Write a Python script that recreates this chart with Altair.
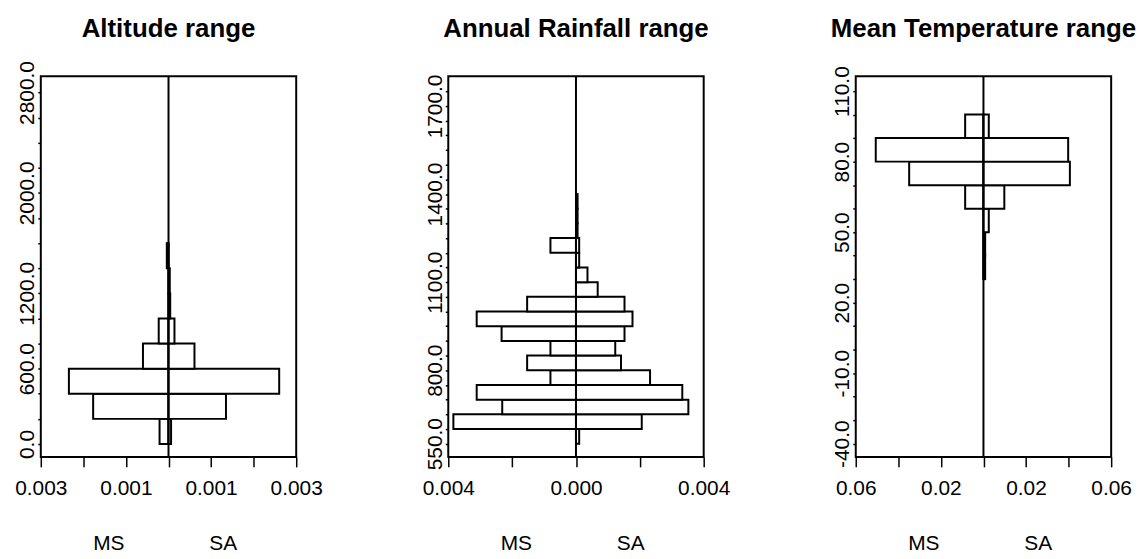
import altair as alt
import pandas as pd

FONT = "Liberation Sans"

# ---------------- Altitude range ----------------
altitude_bins = [0, 200, 400, 600, 800, 1000, 1200, 1400]
altitude_step = 200
altitude_ms = [0.00021, 0.00177, 0.00234, 0.00060, 0.00023, 0.0, 0.0, 0.00004]
altitude_sa = [0.00006, 0.00135, 0.00260, 0.00061, 0.00014, 0.00004, 0.00003, 0.0]
altitude_yticks = list(range(0, 2801, 200))
altitude_ylabels = [0, 600, 1200, 2000, 2800]
altitude_ydomain = [-103, 2929]
altitude_xticks = [-0.003, -0.002, -0.001, 0.0, 0.001, 0.002, 0.003]
altitude_xlabels = [-0.003, -0.001, 0.001, 0.003]
altitude_xdomain = [-0.003, 0.003]

# ---------------- Annual Rainfall range ----------------
rain_bins = [550, 600, 650, 700, 750, 800, 850, 900, 950, 1000, 1050, 1100,
             1150, 1200, 1250, 1300, 1350]
rain_step = 50
rain_ms = [0.0, 0.00384, 0.00231, 0.00311, 0.00080, 0.00153, 0.00080, 0.00233,
           0.00311, 0.00153, 0.0, 0.0, 0.0, 0.00080, 0.0, 0.0, 0.0]
rain_sa = [0.00010, 0.00206, 0.00352, 0.00333, 0.00232, 0.00141, 0.00123, 0.00152,
           0.00177, 0.00152, 0.00068, 0.00036, 0.00010, 0.00010, 0.00005, 0.00005, 0.00005]
rain_yticks = list(range(550, 1751, 50))
rain_ylabels = [550, 800, 1100, 1400, 1700]
rain_ydomain = [505, 1801]
rain_xticks = [-0.004, -0.002, 0.0, 0.002, 0.004]
rain_xlabels = [-0.004, 0.0, 0.004]
rain_xdomain = [-0.004, 0.004]

# ---------------- Mean Temperature range ----------------
temp_bins = [30, 40, 50, 60, 70, 80, 90]
temp_step = 10
temp_ms = [0.0, 0.0, 0.0, 0.0086, 0.0349, 0.0506, 0.0086]
temp_sa = [0.0008, 0.0008, 0.0025, 0.0098, 0.0406, 0.0398, 0.0025]
temp_yticks = list(range(-40, 111, 10))
temp_ylabels = [-40, -10, 20, 50, 80, 110]
temp_ydomain = [-45.6, 116.3]
temp_xticks = [-0.06, -0.04, -0.02, 0.0, 0.02, 0.04, 0.06]
temp_xlabels = [-0.06, -0.02, 0.02, 0.06]
temp_xdomain = [-0.06, 0.06]

W, H = 257, 383
MINUS = "\u2212"


def label_expr(vals, fmt, use_abs, eps):
    cond = " || ".join(f"abs(datum.value - ({v})) < {eps}" for v in vals)
    val = "abs(datum.value)" if use_abs else "datum.value"
    return f"({cond}) ? replace(format({val}, '{fmt}'), '{MINUS}', '-') : ''"


def text_layer(txt, x, y, size, weight="normal"):
    return alt.Chart(alt.Data(values=[{}])).mark_text(
        text=txt, font=FONT, fontSize=size, fontWeight=weight, color="black",
        baseline="alphabetic", align="center"
    ).encode(x=alt.value(x), y=alt.value(y))


def panel(title, bins, step, ms, sa, yticks, ylabels, ydom, xticks, xlabels, xdom, xfmt):
    rows = []
    for lo, m, s in zip(bins, ms, sa):
        rows.append({"y0": lo, "y1": lo + step, "x0": -m, "x1": 0.0})
        rows.append({"y0": lo, "y1": lo + step, "x0": 0.0, "x1": s})
    df = pd.DataFrame(rows)

    xscale = alt.Scale(domain=xdom, nice=False, zero=False)
    yscale = alt.Scale(domain=ydom, nice=False, zero=False)
    xaxis = alt.Axis(values=xticks, labelExpr=label_expr(xlabels, xfmt, True, 1e-9),
                     tickSize=10, labelPadding=11, labelOverlap=False, labelFlush=False)
    yaxis = alt.Axis(values=yticks, labelExpr=label_expr(ylabels, ".1f", False, 1e-6),
                     tickSize=3, labelPadding=4, labelAngle=270, labelAlign="center",
                     labelBaseline="alphabetic", labelOverlap=False, labelFlush=False)

    bars = alt.Chart(df).mark_rect(fill="white", stroke="black", strokeWidth=2).encode(
        x=alt.X("x0:Q", scale=xscale, axis=xaxis, title=None),
        x2="x1:Q",
        y=alt.Y("y0:Q", scale=yscale, axis=yaxis, title=None),
        y2="y1:Q",
    )
    center = alt.Chart(alt.Data(values=[{}])).mark_rule(color="black", strokeWidth=2).encode(
        x=alt.datum(0.0)
    )
    ttl = text_layer(title, W / 2, -40, 26, "bold")
    ms_txt = text_layer("MS", W / 2 - 60, H + 94, 21)
    sa_txt = text_layer("SA", W / 2 + 55, H + 94, 21)

    return alt.layer(bars, center, ttl, ms_txt, sa_txt).properties(width=W, height=H)


p1 = panel("Altitude range", altitude_bins, altitude_step, altitude_ms, altitude_sa,
           altitude_yticks, altitude_ylabels, altitude_ydomain,
           altitude_xticks, altitude_xlabels, altitude_xdomain, ".3f")
p2 = panel("Annual Rainfall range", rain_bins, rain_step, rain_ms, rain_sa,
           rain_yticks, rain_ylabels, rain_ydomain,
           rain_xticks, rain_xlabels, rain_xdomain, ".3f")
p3 = panel("Mean Temperature range", temp_bins, temp_step, temp_ms, temp_sa,
           temp_yticks, temp_ylabels, temp_ydomain,
           temp_xticks, temp_xlabels, temp_xdomain, ".2f")

chart = alt.hconcat(p1, p2, p3, spacing=153, bounds="flush",
                    padding={"left": 5, "top": 5, "right": 0, "bottom": 0},
                    background="white").configure_view(
    stroke="black", strokeWidth=2
).configure_axis(
    labelFont=FONT, labelFontSize=21, labelColor="black", tickColor="black",
    tickWidth=1.5, domain=False, grid=False
)

chart.save("out.html", embed_options={"renderer": "svg", "actions": False})
